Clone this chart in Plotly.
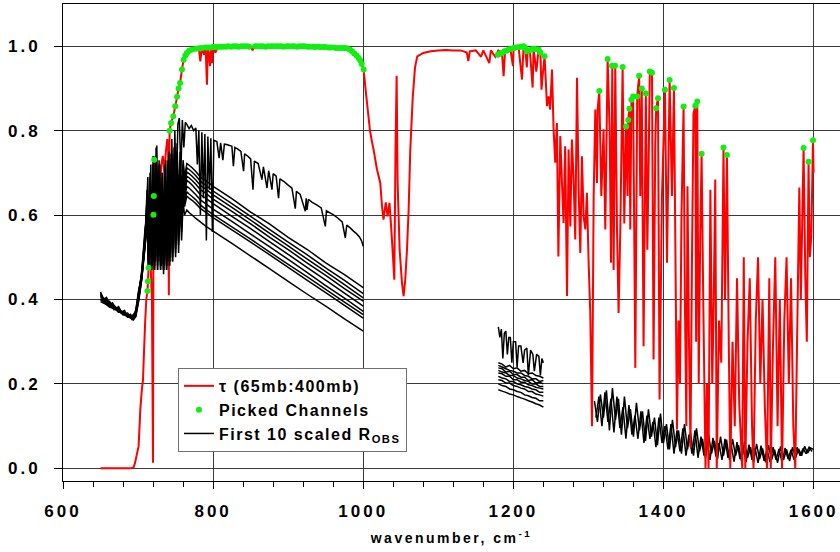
import plotly.graph_objects as go

# ---------------- data ----------------
tau_wn = [650, 660, 670, 680, 690, 694, 696, 698, 700.7, 702, 703, 705, 706.6, 708, 709.6, 711, 712.5, 713.2, 714,
          715.5, 717, 718.5, 719.9, 720.5, 721, 721.5, 723, 725, 727, 729, 731, 733, 735, 737, 739, 740, 741, 742,
          744, 747, 749.6, 752, 754, 756, 758.5, 760.7, 763, 765, 768, 772, 777, 781, 783, 785, 788, 790, 791.8,
          793, 795, 796, 797, 798.6, 800, 803, 806, 810, 820, 830, 840, 850, 852.6, 855, 870, 890, 910, 930, 950,
          960, 970, 980, 987, 994, 998, 1000.5, 1003, 1006, 1009, 1011.5, 1013.8, 1018.3, 1022.7, 1025, 1027, 1030,
          1032.5, 1035, 1037.4, 1039.6, 1041.4, 1043, 1044.5, 1045.8, 1048.5, 1051.6, 1053.8, 1056, 1058.3, 1060.5,
          1062.7, 1066, 1069, 1072, 1080, 1090, 1100, 1110, 1120, 1130, 1138, 1140, 1142, 1150, 1157, 1160, 1168,
          1170, 1176, 1180, 1184.9, 1187, 1189, 1191.5, 1196, 1199.5, 1200.3, 1204, 1207, 1211.5, 1213.6, 1216,
          1218, 1219, 1222, 1225.7, 1227, 1230.6, 1233.6, 1236, 1237.5, 1239, 1241.6, 1242.5, 1244.8, 1247, 1249,
          1251.5, 1253.6, 1255.8, 1258, 1260, 1262.5, 1264.8, 1266.9, 1269, 1271.5, 1273.6, 1275.9, 1278, 1280.3,
          1282.5, 1284.8, 1287, 1289.2, 1291.4, 1293.6, 1295.9, 1298, 1300.3, 1302.5, 1304.8, 1307, 1309.2, 1311.4,
          1312.3, 1314.5, 1317.2, 1320.2, 1322.5, 1325.6, 1328.3, 1330.1, 1331.8, 1333.6, 1335.8, 1338.1, 1340.2,
          1342.5, 1345.6, 1347.8, 1350.2, 1352.2, 1353.1, 1354.6, 1355.8, 1357.3, 1359.6, 1361.2, 1362.5, 1365,
          1367.6, 1369.1, 1371.1, 1373.5, 1376.5, 1378.5, 1380.2, 1381.8, 1384.7, 1386.8, 1389.1, 1390.3, 1392.7,
          1394.8, 1398, 1402, 1404.7, 1408.2, 1411.3, 1414, 1418, 1420, 1422, 1424, 1426.8, 1428.5, 1430.5, 1432,
          1434, 1436, 1438, 1440, 1442.4, 1443.5, 1445, 1447, 1449, 1450.8, 1453, 1456, 1458, 1460, 1462.5, 1465,
          1467, 1469, 1471, 1474, 1477, 1480, 1482, 1484.6, 1487, 1489, 1492, 1495, 1498, 1501, 1505, 1507, 1509,
          1512, 1515, 1518, 1520, 1523, 1526, 1529, 1532, 1535, 1538, 1541, 1543, 1546, 1549, 1552, 1555, 1558,
          1561, 1564, 1567, 1570, 1573, 1575.6, 1578, 1581, 1583, 1586.7, 1589, 1591, 1593.3, 1595, 1597, 1599.2,
          1600]
tau_val = [0.0, 0.0, 0.0, 0.0, 0.0, 0.002, 0.013, 0.03, 0.052, 0.10, 0.139, 0.186, 0.21, 0.28, 0.352, 0.40, 0.42,
           0.443, 0.475, 0.49, 0.47, 0.40, 0.013, 0.601, 0.645, 0.731, 0.62, 0.68, 0.70, 0.66, 0.72, 0.74, 0.70,
           0.75, 0.78, 0.76, 0.41, 0.80, 0.818, 0.834, 0.858, 0.88, 0.90, 0.913, 0.945, 0.968, 0.978, 0.984, 0.989,
           0.992, 0.994, 0.995, 0.964, 0.996, 0.98, 0.997, 0.909, 0.997, 0.97, 0.953, 0.997, 0.96, 0.998, 0.985,
           0.998, 0.999, 0.999, 1.0, 0.999, 1.0, 0.99, 1.0, 1.0, 1.0, 1.0, 1.0, 0.999, 0.998, 0.997, 0.99, 0.985,
           0.973, 0.96, 0.945, 0.90, 0.85, 0.80, 0.775, 0.755, 0.708, 0.676, 0.621, 0.589, 0.63, 0.597, 0.629,
           0.566, 0.502, 0.447, 0.755, 0.93, 0.677, 0.518, 0.44, 0.408, 0.447, 0.518, 0.613, 0.755, 0.88, 0.95,
           0.976, 0.984, 0.988, 0.99, 0.991, 0.99, 0.99, 0.985, 0.965, 0.988, 0.99, 0.975, 0.99, 0.96, 0.99, 0.975,
           0.99, 0.984, 0.929, 0.99, 0.99, 0.994, 0.953, 0.996, 0.997, 0.998, 0.921, 1.0, 0.99, 0.95, 0.988, 0.99,
           0.902, 0.994, 0.94, 0.992, 0.985, 0.897, 0.93, 0.976, 0.945, 0.858, 0.881, 0.85, 0.945, 0.803, 0.724,
           0.818, 0.502, 0.787, 0.676, 0.581, 0.763, 0.408, 0.755, 0.573, 0.779, 0.684, 0.542, 0.925, 0.66, 0.51,
           0.739, 0.597, 0.566, 0.653, 0.487, 0.368, 0.10, 0.645, 0.85, 0.676, 0.85, 0.894, 0.645, 0.803, 0.566,
           0.97, 0.80, 0.487, 0.954, 0.47, 0.954, 0.566, 0.368, 0.566, 0.951, 0.58, 0.81, 0.645, 0.825, 0.852,
           0.566, 0.873, 0.881, 0.526, 0.238, 0.881, 0.93, 0.645, 0.90, 0.289, 0.888, 0.518, 0.716, 0.94, 0.937,
           0.258, 0.771, 0.853, 0.877, 0.163, 0.645, 0.897, 0.487, 0.92, 0.645, 0.901, 0.092, 0.35, 0.2, 0.6,
           0.857, 0.4, 0.1, 0.668, 0.3, 0.05, 0.5, 0.84, 0.859, 0.3, 0.869, 0.2, 0.55, 0.745, 0.4, 0.0, 0.2, 0.0,
           0.66, 0.2, 0.4, 0.684, 0.0, 0.35, 0.25, 0.76, 0.4, 0.742, 0.3, 0.0, 0.3, 0.1, 0.45, 0.15, 0.0, 0.5, 0.0,
           0.3, 0.45, 0.1, 0.0, 0.35, 0.5, 0.2, 0.4, 0.15, 0.0, 0.45, 0.0, 0.3, 0.5, 0.1, 0.4, 0.0, 0.35, 0.5, 0.2,
           0.45, 0.1, 0.0, 0.3, 0.665, 0.4, 0.76, 0.45, 0.3, 0.726, 0.5, 0.55, 0.777, 0.70]

pick_wn = [712.5, 713.2, 714, 720.5, 721, 721.5, 742, 744, 747, 749.6, 752, 754, 756, 758.5, 760.7, 763, 765, 768,
           772, 777, 781, 785, 790, 793, 797, 800, 803, 806, 810, 813, 817, 820, 824, 827, 831, 834, 838, 841, 845,
           848, 856, 859, 863, 866, 870, 873, 877, 880, 884, 887, 891, 894, 898, 901, 905, 908, 912, 915, 919, 922,
           926, 929, 933, 936, 940, 943, 947, 950, 954, 957, 961, 964, 968, 971, 975, 978, 982, 985, 988, 991, 994,
           996, 998, 1000.5,
           1179.5, 1182, 1184.9, 1188, 1191.5, 1195, 1200.3, 1203, 1207, 1210, 1213.6, 1216, 1218, 1221, 1224,
           1227, 1230, 1233.6, 1236, 1241.6,
           1314.5, 1325.6, 1331.4, 1335.4, 1345.6, 1350.2, 1353.1, 1354.6, 1357.3, 1359.6, 1365, 1367.6, 1371.1,
           1376.5, 1381.8, 1384.7, 1390.3, 1392.7, 1402, 1408.2, 1414, 1426.8, 1442.4, 1445, 1450.8, 1480, 1484.6,
           1586.7, 1593.3, 1599.2]
pick_val = [0.42, 0.443, 0.475, 0.601, 0.645, 0.731, 0.80, 0.818, 0.834, 0.858, 0.88, 0.90, 0.913, 0.945, 0.968,
            0.978, 0.984, 0.989, 0.992, 0.994, 0.995, 0.996, 0.997, 0.997, 0.997, 0.998, 0.998, 0.998, 0.999, 0.999,
            0.999, 1.0, 0.999, 1.0, 1.0, 0.999, 1.0, 1.0, 1.0, 0.999, 1.0, 1.0, 1.0, 1.0, 0.999, 1.0, 1.0, 1.0, 1.0,
            1.0, 1.0, 0.999, 1.0, 1.0, 1.0, 1.0, 0.999, 1.0, 1.0, 1.0, 0.999, 0.999, 0.999, 0.998, 0.999, 0.998,
            0.998, 0.998, 0.997, 0.997, 0.997, 0.996, 0.996, 0.996, 0.996, 0.995, 0.992, 0.988, 0.983, 0.978, 0.972,
            0.966, 0.958, 0.945,
            0.98, 0.982, 0.984, 0.988, 0.99, 0.993, 0.996, 0.997, 0.998, 0.999, 1.0, 0.996, 0.988, 0.99, 0.992,
            0.994, 0.993, 0.992, 0.985, 0.976,
            0.894, 0.97, 0.954, 0.954, 0.951, 0.81, 0.825, 0.852, 0.873, 0.881, 0.881, 0.93, 0.90, 0.888, 0.94,
            0.937, 0.853, 0.877, 0.897, 0.92, 0.901, 0.857, 0.859, 0.869, 0.745, 0.76, 0.742, 0.759, 0.726, 0.777]

# first (brightest) scaled radiance spectrum
r1_wn = [650, 654, 658, 662, 666, 670, 674, 678, 682, 686, 690, 694, 697, 700, 703, 706, 709, 711, 713, 715, 717,
         719, 721, 723, 725, 727, 729, 731, 733, 735, 737, 739, 741, 743, 745, 747, 749, 751, 753, 755, 757, 759,
         761, 763, 765, 768, 771, 774, 777, 779, 781, 783, 785, 787, 789, 791, 793, 795, 797, 799, 801, 805, 808,
         810, 813, 815, 818, 822, 825, 827, 829, 833, 837, 840.6, 842, 846, 850, 853.1, 855, 860, 865, 867, 871.8,
         874, 878.4, 880, 884, 887.2, 889, 894, 900, 905, 909.5, 911, 916, 922.8, 924, 925, 927, 932, 938, 944,
         949.5, 951, 955, 960, 966, 972, 976.1, 978, 983, 987, 991, 995, 998, 1000]
r1_val = [0.418, 0.400, 0.405, 0.388, 0.392, 0.378, 0.383, 0.370, 0.374, 0.360, 0.365, 0.352, 0.360, 0.400, 0.430,
          0.470, 0.520, 0.600, 0.690, 0.520, 0.720, 0.480, 0.740, 0.500, 0.765, 0.520, 0.720, 0.480, 0.700, 0.500,
          0.730, 0.520, 0.750, 0.560, 0.780, 0.600, 0.800, 0.640, 0.815, 0.830, 0.700, 0.825, 0.760, 0.820, 0.815,
          0.805, 0.812, 0.800, 0.806, 0.720, 0.800, 0.600, 0.796, 0.640, 0.792, 0.540, 0.786, 0.660, 0.782, 0.560,
          0.777, 0.774, 0.735, 0.771, 0.730, 0.768, 0.767, 0.765, 0.763, 0.716, 0.760, 0.756, 0.751, 0.704, 0.745,
          0.740, 0.733, 0.660, 0.728, 0.722, 0.684, 0.714, 0.664, 0.705, 0.660, 0.698, 0.692, 0.640, 0.686, 0.680,
          0.671, 0.664, 0.615, 0.656, 0.649, 0.609, 0.640, 0.612, 0.637, 0.630, 0.624, 0.617, 0.573, 0.610, 0.606,
          0.601, 0.593, 0.584, 0.546, 0.576, 0.569, 0.562, 0.556, 0.548, 0.538, 0.526]
r1_wn_b = [1180, 1182, 1184, 1186, 1188, 1190, 1192, 1194, 1196, 1198, 1200, 1203, 1205, 1207, 1210, 1213, 1215,
           1218, 1220, 1223, 1226, 1228, 1231, 1234, 1236, 1238, 1240]
r1_val_b = [0.335, 0.31, 0.33, 0.26, 0.32, 0.325, 0.27, 0.31, 0.31, 0.25, 0.30, 0.30, 0.24, 0.29, 0.29, 0.25, 0.28,
            0.285, 0.22, 0.28, 0.27, 0.23, 0.27, 0.265, 0.22, 0.26, 0.25]

# other nine spectra share a wavenumber grid
rx_wn = [650, 656, 662, 668, 674, 680, 686, 692, 697, 701, 705, 709, 712, 714, 716, 718, 720, 722, 724, 726, 728,
         730, 732, 734, 736, 738, 740, 742, 744, 746, 748, 750, 752, 754, 756, 758, 760, 762, 765, 768, 772, 777,
         783, 790, 800, 825, 850, 875, 900, 925, 950, 975, 1000]
rx_wn_b = [1180, 1185, 1190, 1195, 1200, 1205, 1210, 1215, 1220, 1225, 1230, 1235, 1240]

r2_val = [0.412, 0.398, 0.392, 0.380, 0.377, 0.368, 0.366, 0.358, 0.372, 0.420, 0.462, 0.540, 0.640, 0.520, 0.700,
          0.540, 0.740, 0.520, 0.760, 0.500, 0.700, 0.490, 0.690, 0.510, 0.710, 0.520, 0.720, 0.540, 0.745, 0.560,
          0.760, 0.580, 0.770, 0.610, 0.750, 0.640, 0.730, 0.690, 0.722, 0.718, 0.712, 0.703, 0.690, 0.682, 0.668,
          0.639, 0.607, 0.579, 0.547, 0.519, 0.487, 0.459, 0.428]
r3_val = [0.405, 0.402, 0.388, 0.384, 0.372, 0.370, 0.362, 0.360, 0.368, 0.410, 0.470, 0.560, 0.600, 0.480, 0.680,
          0.500, 0.720, 0.480, 0.740, 0.520, 0.680, 0.470, 0.700, 0.490, 0.690, 0.500, 0.730, 0.520, 0.720, 0.550,
          0.740, 0.560, 0.750, 0.590, 0.730, 0.620, 0.720, 0.680, 0.712, 0.708, 0.702, 0.693, 0.680, 0.671, 0.657,
          0.627, 0.597, 0.566, 0.536, 0.506, 0.475, 0.445, 0.414]
r4_val = [0.415, 0.395, 0.396, 0.378, 0.380, 0.365, 0.368, 0.355, 0.375, 0.425, 0.455, 0.530, 0.660, 0.500, 0.650,
          0.470, 0.700, 0.500, 0.720, 0.470, 0.720, 0.500, 0.670, 0.480, 0.720, 0.510, 0.700, 0.530, 0.730, 0.540,
          0.720, 0.570, 0.730, 0.580, 0.720, 0.610, 0.710, 0.670, 0.702, 0.698, 0.692, 0.683, 0.670, 0.662, 0.648,
          0.618, 0.588, 0.557, 0.527, 0.496, 0.466, 0.435, 0.404]
r5_val = [0.400, 0.392, 0.385, 0.382, 0.370, 0.372, 0.360, 0.362, 0.365, 0.405, 0.448, 0.520, 0.580, 0.490, 0.690,
          0.520, 0.680, 0.490, 0.700, 0.480, 0.730, 0.520, 0.660, 0.500, 0.680, 0.480, 0.690, 0.510, 0.700, 0.530,
          0.710, 0.550, 0.720, 0.570, 0.710, 0.600, 0.700, 0.660, 0.692, 0.688, 0.682, 0.673, 0.660, 0.652, 0.638,
          0.609, 0.579, 0.548, 0.518, 0.487, 0.457, 0.426, 0.396]
r6_val = [0.408, 0.400, 0.390, 0.386, 0.375, 0.366, 0.364, 0.356, 0.370, 0.415, 0.465, 0.550, 0.620, 0.470, 0.660,
          0.490, 0.700, 0.470, 0.690, 0.510, 0.690, 0.480, 0.650, 0.470, 0.670, 0.500, 0.680, 0.490, 0.690, 0.520,
          0.700, 0.540, 0.710, 0.560, 0.700, 0.590, 0.690, 0.650, 0.682, 0.678, 0.671, 0.661, 0.648, 0.640, 0.627,
          0.597, 0.568, 0.537, 0.507, 0.476, 0.446, 0.415, 0.384]
r7_val = [0.398, 0.396, 0.384, 0.380, 0.374, 0.368, 0.360, 0.358, 0.362, 0.400, 0.452, 0.535, 0.590, 0.500, 0.640,
          0.480, 0.680, 0.500, 0.700, 0.490, 0.670, 0.500, 0.640, 0.480, 0.650, 0.490, 0.660, 0.500, 0.670, 0.510,
          0.680, 0.530, 0.690, 0.550, 0.690, 0.580, 0.680, 0.640, 0.668, 0.664, 0.657, 0.648, 0.636, 0.627, 0.614,
          0.585, 0.555, 0.525, 0.495, 0.464, 0.433, 0.403, 0.372]
r8_val = [0.410, 0.394, 0.390, 0.376, 0.378, 0.364, 0.366, 0.352, 0.368, 0.418, 0.458, 0.545, 0.610, 0.490, 0.670,
          0.500, 0.690, 0.480, 0.670, 0.500, 0.660, 0.490, 0.630, 0.470, 0.640, 0.480, 0.650, 0.490, 0.650, 0.500,
          0.660, 0.520, 0.670, 0.540, 0.680, 0.570, 0.670, 0.630, 0.655, 0.650, 0.644, 0.636, 0.624, 0.614, 0.601,
          0.572, 0.543, 0.513, 0.483, 0.454, 0.424, 0.394, 0.364]
r9_val = [0.402, 0.398, 0.386, 0.384, 0.370, 0.370, 0.358, 0.360, 0.366, 0.408, 0.460, 0.525, 0.570, 0.480, 0.650,
          0.470, 0.660, 0.490, 0.680, 0.470, 0.650, 0.480, 0.620, 0.470, 0.630, 0.470, 0.640, 0.480, 0.640, 0.490,
          0.650, 0.510, 0.660, 0.530, 0.670, 0.560, 0.660, 0.620, 0.645, 0.640, 0.635, 0.627, 0.616, 0.607, 0.594,
          0.565, 0.536, 0.506, 0.476, 0.446, 0.416, 0.386, 0.356]
r10_val = [0.395, 0.390, 0.382, 0.378, 0.372, 0.364, 0.360, 0.354, 0.360, 0.398, 0.450, 0.530, 0.600, 0.470, 0.630,
           0.480, 0.660, 0.470, 0.650, 0.490, 0.640, 0.470, 0.610, 0.460, 0.620, 0.470, 0.610, 0.480, 0.620, 0.490,
           0.630, 0.500, 0.640, 0.510, 0.640, 0.540, 0.630, 0.600, 0.612, 0.606, 0.600, 0.592, 0.584, 0.574, 0.562,
           0.533, 0.503, 0.473, 0.443, 0.413, 0.384, 0.354, 0.325]

r2_val_b = [0.250, 0.247, 0.240, 0.244, 0.236, 0.238, 0.230, 0.232, 0.224, 0.226, 0.220, 0.218, 0.214]
r3_val_b = [0.244, 0.240, 0.236, 0.232, 0.230, 0.226, 0.226, 0.220, 0.218, 0.212, 0.212, 0.206, 0.208]
r4_val_b = [0.238, 0.236, 0.228, 0.230, 0.222, 0.222, 0.216, 0.216, 0.208, 0.210, 0.202, 0.204, 0.200]
r5_val_b = [0.232, 0.228, 0.226, 0.220, 0.220, 0.214, 0.212, 0.208, 0.206, 0.200, 0.200, 0.194, 0.194]
r6_val_b = [0.226, 0.224, 0.218, 0.218, 0.210, 0.210, 0.204, 0.204, 0.198, 0.196, 0.192, 0.190, 0.188]
r7_val_b = [0.218, 0.214, 0.212, 0.206, 0.206, 0.200, 0.198, 0.194, 0.192, 0.188, 0.186, 0.180, 0.180]
r8_val_b = [0.210, 0.208, 0.202, 0.202, 0.196, 0.194, 0.190, 0.188, 0.182, 0.182, 0.176, 0.174, 0.171]
r9_val_b = [0.200, 0.196, 0.194, 0.188, 0.186, 0.182, 0.180, 0.174, 0.172, 0.168, 0.166, 0.160, 0.160]
r10_val_b = [0.186, 0.183, 0.180, 0.176, 0.174, 0.170, 0.167, 0.164, 0.160, 0.157, 0.153, 0.150, 0.145]

# long-wave window band (1308-1600)
rc1_wn = [1308, 1312, 1316, 1320, 1324, 1328, 1332, 1336, 1340, 1344, 1348, 1352, 1356, 1360, 1364, 1368, 1372,
          1376, 1380, 1384, 1388, 1392, 1396, 1400, 1404, 1408, 1412, 1416, 1420, 1424, 1428, 1432, 1436, 1440,
          1444, 1448, 1452, 1456, 1460, 1464, 1468, 1472, 1476, 1480, 1484, 1488, 1492, 1496, 1500, 1504, 1508,
          1512, 1516, 1520, 1524, 1528, 1532, 1536, 1540, 1544, 1548, 1552, 1556, 1560, 1564, 1568, 1572, 1576,
          1580, 1584, 1588, 1592, 1596, 1600]
rc1_val = [0.16, 0.11, 0.175, 0.12, 0.185, 0.09, 0.19, 0.115, 0.165, 0.08,
           0.17, 0.095, 0.14, 0.075, 0.155, 0.09, 0.135, 0.065, 0.14, 0.075,
           0.12, 0.055, 0.13, 0.06, 0.105, 0.045, 0.115, 0.05, 0.09, 0.035,
           0.105, 0.045, 0.085, 0.03, 0.095, 0.04, 0.07, 0.025, 0.08, 0.035,
           0.065, 0.022, 0.075, 0.03, 0.068, 0.02, 0.07, 0.03, 0.055, 0.018,
           0.064, 0.025, 0.05, 0.014, 0.058, 0.022, 0.047, 0.014, 0.055, 0.02,
           0.044, 0.013, 0.052, 0.02, 0.045, 0.017, 0.05, 0.025, 0.046, 0.03,
           0.052, 0.036, 0.048, 0.045]
rc2_wn = [1310, 1314, 1318, 1322, 1326, 1330, 1334, 1338, 1342, 1346, 1350, 1354, 1358, 1362, 1366, 1370, 1374,
          1378, 1382, 1386, 1390, 1394, 1398, 1402, 1406, 1410, 1414, 1418, 1422, 1426, 1430, 1434, 1438, 1442,
          1446, 1450, 1454, 1458, 1462, 1466, 1470, 1474, 1478, 1482, 1486, 1490, 1494, 1498, 1502, 1506, 1510,
          1514, 1518, 1522, 1526, 1530, 1534, 1538, 1542, 1546, 1550, 1554, 1558, 1562, 1566, 1570, 1574, 1578,
          1582, 1586, 1590, 1594, 1598]
rc2_val = [0.12, 0.17, 0.10, 0.18, 0.11, 0.165, 0.085, 0.17, 0.095, 0.145,
           0.07, 0.15, 0.08, 0.125, 0.07, 0.135, 0.06, 0.125, 0.07, 0.11,
           0.05, 0.12, 0.06, 0.10, 0.045, 0.105, 0.035, 0.09, 0.04, 0.095,
           0.03, 0.08, 0.035, 0.09, 0.025, 0.075, 0.03, 0.065, 0.02, 0.072,
           0.028, 0.06, 0.02, 0.07, 0.025, 0.058, 0.016, 0.062, 0.022, 0.05,
           0.015, 0.056, 0.02, 0.048, 0.013, 0.054, 0.018, 0.045, 0.015, 0.05,
           0.02, 0.046, 0.014, 0.048, 0.022, 0.044, 0.02, 0.05, 0.03, 0.047,
           0.035, 0.05, 0.04]

x_ticks = [600, 800, 1000, 1200, 1400, 1600]
x_ticklabels = ["600", "800", "1000", "1200", "1400", "1600"]
y_ticks = [0.0, 0.2, 0.4, 0.6, 0.8, 1.0]
y_ticklabels = ["0.0", "0.2", "0.4", "0.6", "0.8", "1.0"]
x_minor = list(range(600, 1640, 40))

# ---------------- figure ----------------
FONT = "Liberation Sans, Arial, sans-serif"
BLACK_W = 1.5


def spaced(s, px):
    return f'<span style="letter-spacing:{px}px">{s}</span>'


fig = go.Figure()

for wn, val in [(rc1_wn, rc1_val), (rc2_wn, rc2_val)]:
    fig.add_trace(go.Scatter(x=wn, y=val, mode="lines", line=dict(color="black", width=BLACK_W, simplify=False),
                             showlegend=False, hoverinfo="skip"))

fig.add_trace(go.Scatter(x=tau_wn, y=tau_val, mode="lines", line=dict(color="#ff0000", width=2, simplify=False),
                         name=spaced("τ (65mb:400mb)", 1.5), legendrank=1))

fig.add_trace(go.Scatter(x=r1_wn + [None] + r1_wn_b, y=r1_val + [None] + r1_val_b, mode="lines",
                         line=dict(color="black", width=BLACK_W, simplify=False), legendrank=3,
                         name=spaced("First 10 scaled R<sub>OBS</sub>", 1.5)))
others = [(r2_val, r2_val_b), (r3_val, r3_val_b), (r4_val, r4_val_b), (r5_val, r5_val_b), (r6_val, r6_val_b),
          (r7_val, r7_val_b), (r8_val, r8_val_b), (r9_val, r9_val_b), (r10_val, r10_val_b)]
for va, vb in others:
    fig.add_trace(go.Scatter(x=rx_wn + [None] + rx_wn_b, y=va + [None] + vb, mode="lines",
                             line=dict(color="black", width=BLACK_W, simplify=False), showlegend=False))

fig.add_trace(go.Scatter(x=pick_wn, y=pick_val, mode="markers",
                         marker=dict(color="#11ee11", size=6, line=dict(width=0)),
                         name=spaced("Picked Channels", 1.5), legendrank=2))

axis_common = dict(showgrid=True, gridcolor="#3a3a3a", gridwidth=1, zeroline=False,
                   showline=True, linecolor="black", linewidth=1,
                   ticks="outside", tickcolor="black", tickwidth=1,
                   tickfont=dict(family=FONT, size=17, color="black", weight="bold"))

fig.update_layout(
    width=840, height=552,
    margin=dict(l=63, r=0, t=4, b=71),
    paper_bgcolor="white", plot_bgcolor="white",
    xaxis=dict(range=[600, 1635.2], tickmode="array", tickvals=x_ticks,
               ticktext=[spaced(t, 3) for t in x_ticklabels], ticklen=7, mirror=True,
               ticklabelstandoff=8,
               minor=dict(tickmode="array", tickvals=x_minor, ticks="outside", ticklen=5,
                          tickcolor="black", tickwidth=1, showgrid=False),
               title=dict(text=spaced("wavenumber, cm<sup>-1</sup>", 2.5),
                          font=dict(family=FONT, size=14, color="black", weight="bold"), standoff=12),
               **axis_common),
    yaxis=dict(range=[-0.03, 1.1], tickmode="array", tickvals=y_ticks,
               ticktext=[spaced(t, 3) for t in y_ticklabels], ticklen=8, ticklabelstandoff=10,
               **axis_common),
    legend=dict(x=0.148, y=0.237, xanchor="left", yanchor="top", bgcolor="white",
                bordercolor="#707070", borderwidth=1, tracegroupgap=0,
                font=dict(family=FONT, size=16, color="black", weight="bold")),
    showlegend=True,
)

fig.write_html("out.html")
